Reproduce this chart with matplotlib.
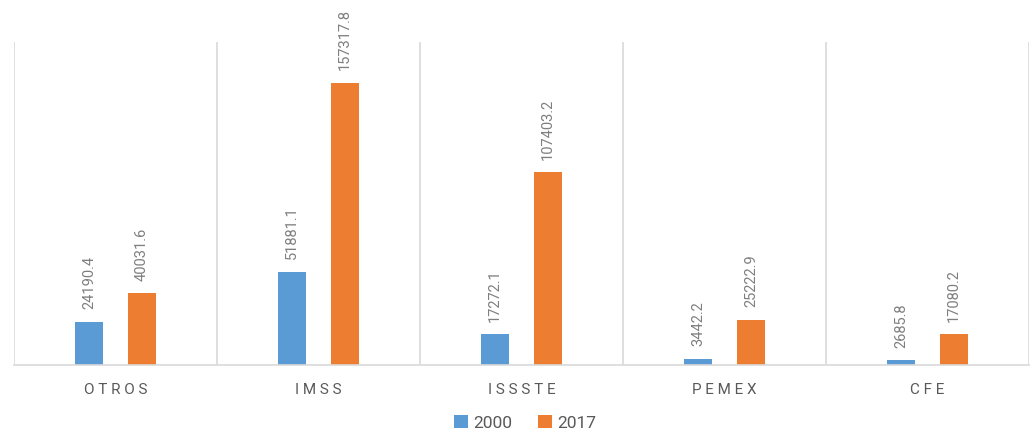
import numpy as np
import matplotlib.pyplot as plt

plt.rcParams['font.family'] = ['Roboto', 'DejaVu Sans']

# Datos
categorias = ['OTROS', 'IMSS', 'ISSSTE', 'PEMEX', 'CFE']
valores_2000 = [24190.4, 51881.1, 17272.1, 3442.2, 2685.8]
valores_2017 = [40031.6, 157317.8, 107403.2, 25222.9, 17080.2]
series = ['2000', '2017']

azul = '#5B9BD5'
naranja = '#ED7D31'
gris = '#595959'

fig = plt.figure(figsize=(10.30, 4.33), dpi=100)
ax = fig.add_axes([14/1030, (433-365)/433, 1015/1030, 323/433])

x = np.arange(len(categorias))
ancho = 0.138
desp = 0.13

b1 = ax.bar(x - desp, valores_2000, ancho, color=azul, label=series[0])
b2 = ax.bar(x + desp, valores_2017, ancho, color=naranja, label=series[1])

# Etiquetas de datos verticales
for barras in (b1, b2):
    for r in barras:
        v = r.get_height()
        ax.annotate(f'{v:.1f}', (r.get_x() + r.get_width()/2, v),
                    xytext=(0, 9), textcoords='offset points',
                    rotation=90, ha='center', va='bottom',
                    fontsize=10.5, color='#7F7F7F', annotation_clip=False)

ax.set_xlim(-0.5, len(categorias) - 0.5)
ax.set_ylim(0, 180000)

# Lineas verticales entre categorias
for xv in np.arange(-0.5, len(categorias), 1.0):
    ax.axvline(xv, color='#D9D9D9', lw=1.2, zorder=0)

for s in ['top', 'right', 'left']:
    ax.spines[s].set_visible(False)
ax.spines['bottom'].set_color('#D9D9D9')
ax.spines['bottom'].set_linewidth(1.2)

ax.set_yticks([])
ax.set_xticks(x)
ax.set_xticklabels([' '.join(c) for c in categorias], fontsize=11, color=gris)
ax.tick_params(axis='x', length=0, pad=13)

leg = fig.legend(handles=[b1, b2], labels=series, loc='center',
                 bbox_to_anchor=(525/1030, 1 - 423/433), ncol=2,
                 frameon=False, fontsize=12.5, handlelength=0.8,
                 handleheight=0.8, columnspacing=1.5, handletextpad=0.3)
for t in leg.get_texts():
    t.set_color(gris)

fig.savefig('out.png', dpi=100)
